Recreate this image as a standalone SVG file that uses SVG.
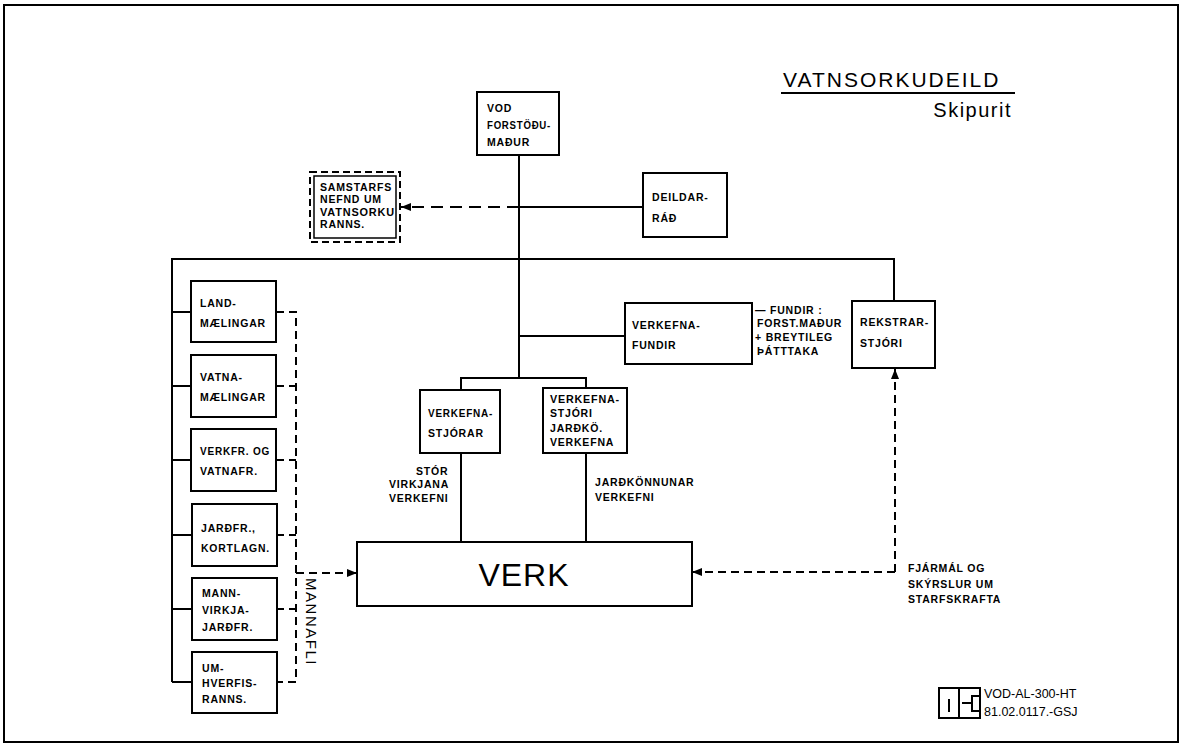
<svg xmlns="http://www.w3.org/2000/svg" width="1182" height="747" viewBox="0 0 1182 747">
<style>
.box{fill:#fff;stroke:#000;stroke-width:2}
.ln{stroke:#000;stroke-width:2;fill:none}
.dl{stroke:#000;stroke-width:2;fill:none;stroke-dasharray:8 5}
.dl2{stroke:#000;stroke-width:2;fill:none;stroke-dasharray:12 7}
.t{font-family:"Liberation Sans",Arial,Helvetica,sans-serif;font-weight:bold;font-size:10.5px;letter-spacing:0.8px;fill:#000}
.r{font-family:"Liberation Sans",Arial,Helvetica,sans-serif;fill:#000}
</style>
<defs>
<marker id="ah" markerWidth="10" markerHeight="8" refX="10" refY="4" orient="auto" markerUnits="userSpaceOnUse">
<path d="M0,0 L10,4 L0,8 z" fill="#000"/>
</marker>
</defs>
<rect x="0" y="0" width="1182" height="747" fill="#fff"/>
<rect x="4" y="5" width="1174" height="737" fill="none" stroke="#000" stroke-width="2"/>

<g id="title">
<text class="r" x="783" y="87" font-size="21" letter-spacing="2">VATNSORKUDEILD</text>
<line x1="781" y1="93" x2="1015" y2="93" stroke="#000" stroke-width="2"/>
<text class="r" x="1012" y="117" font-size="20" letter-spacing="1.5" text-anchor="end">Skipurit</text>
</g>

<g id="connectors">
<line class="ln" x1="519" y1="155" x2="519" y2="378"/>
<line class="ln" x1="519" y1="207" x2="643" y2="207"/>
<line class="dl2" x1="519" y1="207" x2="401" y2="207" marker-end="url(#ah)"/>
<polyline class="ln" points="172,682 172,259 894,259 894,301"/>
<line class="ln" x1="172" y1="312" x2="191" y2="312"/>
<line class="ln" x1="172" y1="386" x2="191" y2="386"/>
<line class="ln" x1="172" y1="460" x2="191" y2="460"/>
<line class="ln" x1="172" y1="535" x2="191" y2="535"/>
<line class="ln" x1="172" y1="609" x2="191" y2="609"/>
<line class="ln" x1="172" y1="682" x2="191" y2="682"/>
<line class="ln" x1="519" y1="336" x2="625" y2="336"/>
<polyline class="ln" points="461,390 461,378 586,378 586,388"/>
<line class="ln" x1="461" y1="453" x2="461" y2="542"/>
<line class="ln" x1="586" y1="453" x2="586" y2="542"/>
<polyline class="dl" points="276,312 296,312 296,682 276,682"/>
<line class="dl" x1="276" y1="386" x2="296" y2="386"/>
<line class="dl" x1="276" y1="460" x2="296" y2="460"/>
<line class="dl" x1="276" y1="535" x2="296" y2="535"/>
<line class="dl" x1="276" y1="609" x2="296" y2="609"/>
<line class="dl" x1="296" y1="573" x2="357" y2="573" marker-end="url(#ah)"/>
<line class="dl" x1="895" y1="572" x2="895" y2="369" marker-end="url(#ah)"/>
<line class="dl" x1="895" y1="572" x2="692" y2="572" marker-end="url(#ah)"/>
</g>

<g id="vod">
<rect class="box" x="477" y="92" width="82" height="63"/>
<text class="t" x="487" y="112">VOD</text>
<text class="t" x="487" y="129" textLength="64" lengthAdjust="spacingAndGlyphs">FORSTÖÐU-</text>
<text class="t" x="487" y="146">MAÐUR</text>
</g>

<g id="samstarfs">
<rect x="310" y="172" width="90" height="70" fill="#fff" stroke="#000" stroke-width="2" stroke-dasharray="7 4"/>
<rect x="314" y="176" width="82" height="62" fill="none" stroke="#000" stroke-width="1.5"/>
<text class="t" x="320" y="191" textLength="72" lengthAdjust="spacingAndGlyphs">SAMSTARFS</text>
<text class="t" x="320" y="203">NEFND UM</text>
<text class="t" x="320" y="216" textLength="75" lengthAdjust="spacingAndGlyphs">VATNSORKU</text>
<text class="t" x="320" y="228">RANNS.</text>
</g>

<g id="deildarrad">
<rect class="box" x="643" y="173" width="84" height="64"/>
<text class="t" x="652" y="201">DEILDAR-</text>
<text class="t" x="652" y="222">RÁÐ</text>
</g>

<g id="landmaelingar">
<rect class="box" x="191" y="281" width="85" height="61"/>
<text class="t" x="200" y="307">LAND-</text>
<text class="t" x="200" y="327">MÆLINGAR</text>
</g>
<g id="vatnamaelingar">
<rect class="box" x="191" y="355" width="85" height="62"/>
<text class="t" x="200" y="381">VATNA-</text>
<text class="t" x="200" y="401">MÆLINGAR</text>
</g>
<g id="verkfr">
<rect class="box" x="191" y="429" width="85" height="62"/>
<text class="t" x="200" y="455" textLength="70" lengthAdjust="spacingAndGlyphs">VERKFR. OG</text>
<text class="t" x="200" y="475">VATNAFR.</text>
</g>
<g id="jardfr">
<rect class="box" x="192" y="504" width="85" height="62"/>
<text class="t" x="201" y="532">JARÐFR.,</text>
<text class="t" x="201" y="552" textLength="69" lengthAdjust="spacingAndGlyphs">KORTLAGN.</text>
</g>
<g id="mannvirkja">
<rect class="box" x="192" y="578" width="85" height="62"/>
<text class="t" x="202" y="597">MANN-</text>
<text class="t" x="202" y="614">VIRKJA-</text>
<text class="t" x="202" y="631">JARÐFR.</text>
</g>
<g id="umhverfis">
<rect class="box" x="192" y="652" width="85" height="61"/>
<text class="t" x="202" y="672">UM-</text>
<text class="t" x="202" y="687">HVERFIS-</text>
<text class="t" x="202" y="703">RANNS.</text>
</g>
<text class="r" x="0" y="0" font-size="15" letter-spacing="1.5" text-anchor="middle" transform="translate(306,622) rotate(90)">MANNAFLI</text>

<g id="verkefnafundir">
<rect class="box" x="625" y="303" width="127" height="61"/>
<text class="t" x="632" y="329" letter-spacing="1.5">VERKEFNA-</text>
<text class="t" x="632" y="349" letter-spacing="1.5">FUNDIR</text>
</g>
<g id="fundir-note">
<text class="t" x="755" y="314" letter-spacing="0.6">— FUNDIR :</text>
<text class="t" x="757" y="327" letter-spacing="0.4">FORST.MAÐUR</text>
<text class="t" x="755" y="341" letter-spacing="0.6">+ BREYTILEG</text>
<text class="t" x="757" y="355" letter-spacing="0.6">ÞÁTTTAKA</text>
</g>

<g id="rekstrarstjori">
<rect class="box" x="852" y="301" width="83" height="67"/>
<text class="t" x="860" y="326">REKSTRAR-</text>
<text class="t" x="860" y="347">STJÓRI</text>
</g>

<g id="verkefnastjorar">
<rect class="box" x="420" y="390" width="80" height="63"/>
<text class="t" x="428" y="417" textLength="65" lengthAdjust="spacingAndGlyphs">VERKEFNA-</text>
<text class="t" x="428" y="437">STJÓRAR</text>
</g>
<g id="verkefnastjori">
<rect class="box" x="543" y="388" width="84" height="65"/>
<text class="t" x="550" y="403" textLength="70" lengthAdjust="spacingAndGlyphs">VERKEFNA-</text>
<text class="t" x="550" y="417">STJÓRI</text>
<text class="t" x="550" y="432">JARÐKÖ.</text>
<text class="t" x="550" y="446">VERKEFNA</text>
</g>

<g id="labels">
<text class="t" x="416" y="475">STÓR</text>
<text class="t" x="389" y="488">VIRKJANA</text>
<text class="t" x="389" y="502">VERKEFNI</text>
<text class="t" x="595" y="486">JARÐKÖNNUNAR</text>
<text class="t" x="595" y="501">VERKEFNI</text>
<text class="t" x="908" y="572">FJÁRMÁL OG</text>
<text class="t" x="908" y="588">SKÝRSLUR UM</text>
<text class="t" x="908" y="603">STARFSKRAFTA</text>
</g>

<g id="verk">
<rect class="box" x="357" y="542" width="335" height="64"/>
<text class="r" x="524" y="586" font-size="32" letter-spacing="1" text-anchor="middle">VERK</text>
</g>

<g id="stamp">
<rect x="939" y="688" width="41" height="30" fill="none" stroke="#000" stroke-width="2"/>
<line x1="959" y1="688" x2="959" y2="718" stroke="#000" stroke-width="2"/>
<line x1="949" y1="699" x2="949" y2="712" stroke="#000" stroke-width="2"/>
<polyline points="980,696 972,696 972,703 962,703" fill="none" stroke="#000" stroke-width="2"/>
<polyline points="972,703 972,711 980,711" fill="none" stroke="#000" stroke-width="2"/>
<text class="r" x="984" y="698" font-size="12.5">VOD-AL-300-HT</text>
<text class="r" x="984" y="716" font-size="12.5">81.02.0117.-GSJ</text>
</g>
</svg>
